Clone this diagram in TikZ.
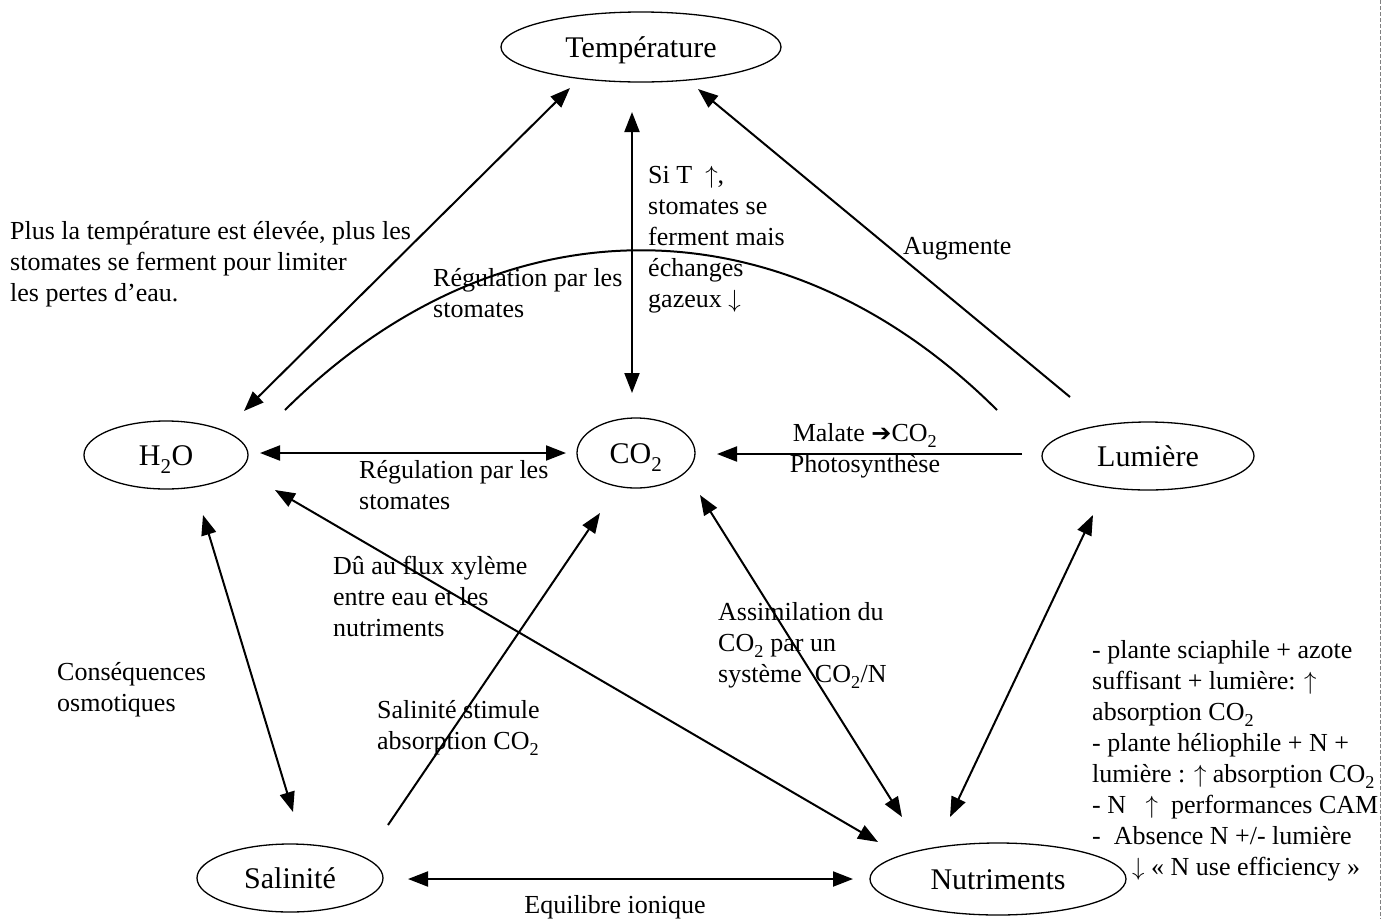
\documentclass[tikz,border=0pt]{standalone}
\usepackage{fontspec}
\setmainfont{Liberation Serif}
\newfontfamily\dejavu{DejaVu Sans}
\usetikzlibrary{shapes.geometric,arrows.meta,calc}
\newcommand{\dtwo}{\raisebox{-0.12em}{\textsubscript{2}}}
\newcommand{\upa}{$\uparrow$}
\newcommand{\dna}{$\downarrow$}
\begin{document}
\begin{tikzpicture}[x=1pt,y=-1pt,
  ell/.style={draw, ellipse, line width=1.3pt, inner sep=0pt, text height=24pt, text depth=4pt, font=\fontsize{30}{36}\selectfont},
  lbl/.style={font=\fontsize{26}{31}\selectfont, align=left, anchor=base west, inner sep=0pt},
  conn/.style={line width=2pt},
  dbl/.style={conn, {Triangle[length=20pt,width=15pt]}-{Triangle[length=20pt,width=15pt]}},
  one/.style={conn, -{Triangle[length=20pt,width=15pt]}}]
\useasboundingbox (0,0) rectangle (1385,919);

% nodes
\node[ell, minimum width=280pt, minimum height=70pt] (Temp) at (641,47) {Température};
\node[ell, minimum width=164pt, minimum height=68pt] (H2O) at (166,455) {H\dtwo O};
\node[ell, minimum width=118pt, minimum height=70pt] (CO2) at (636,453) {CO\dtwo};
\node[ell, minimum width=212pt, minimum height=68pt] (Lum) at (1148,456) {Lumière};
\node[ell, minimum width=186pt, minimum height=68pt] (Sal) at (290,878) {Salinité};
\node[ell, minimum width=256pt, minimum height=72pt] (Nutr) at (998,879) {Nutriments};

% connectors
\draw[dbl] ($(Temp.center)+(-71,41)$) -- ($(H2O.center)+(78,-44)$);
\draw[dbl] ($(Temp.center)+(-9,65)$) -- ($(CO2.center)+(-4,-60)$);
\draw[one] ($(Lum.center)+(-78,-59)$) -- ($(Temp.center)+(57,42)$);
\draw[conn] ($(H2O.center)+(119,-45)$) .. controls +(214,-213) and +(-214,-213) .. ($(Lum.center)+(-151,-46)$);
\draw[dbl] ($(H2O.center)+(94,-2)$) -- ($(CO2.center)+(-70,0)$);
\draw[one] ($(Lum.center)+(-126,-2)$) -- ($(CO2.center)+(81,1)$);
\draw[dbl] ($(H2O.center)+(109,35)$) -- ($(Nutr.center)+(-120,-37)$);
\draw[dbl] ($(H2O.center)+(37,60)$) -- ($(Sal.center)+(3,-66)$);
\draw[one] ($(Sal.center)+(98,-53)$) -- ($(CO2.center)+(-36,60)$);
\draw[dbl] ($(CO2.center)+(64,42)$) -- ($(Nutr.center)+(-96,-62)$);
\draw[dbl] ($(Lum.center)+(-55,59)$) -- ($(Nutr.center)+(-48,-62)$);
\draw[dbl] ($(Sal.center)+(118,1)$) -- ($(Nutr.center)+(-145,0)$);

% labels (anchor = baseline of the last line)
\node[lbl] (tA) at (10,301) {Plus la température est élevée, plus les\\stomates se ferment pour limiter\\les pertes d’eau.};
\node[lbl] (tB) at (433,317) {Régulation par les\\stomates};
\node[lbl] (tC) at (648,307) {Si T\ \ \upa,\\stomates se\\ferment mais\\échanges\\gazeux \dna};
\node[lbl] (tD) at (903,254) {Augmente};
\node[lbl] (tE) at (359,509) {Régulation par les\\stomates};
\node[lbl, align=center, anchor=base] (tF) at (865,472) {Malate {\dejavu\fontsize{24}{26}\selectfont ➔}CO\dtwo\\Photosynthèse};
\node[lbl] (tG) at (333,636) {Dû au flux xylème\\entre eau et les\\nutriments};
\node[lbl] (tH) at (718,682) {Assimilation du\\CO\dtwo{} par un\\système\ \ CO\dtwo/N};
\node[lbl] (tI) at (57,711) {Conséquences\\osmotiques};
\node[lbl] (tJ) at (377,749) {Salinité stimule\\absorption CO\dtwo};
\node[lbl, anchor=base] (tK) at (615,913) {Equilibre ionique};
\node[lbl] (tL) at (1092,875) {- plante sciaphile + azote\\suffisant + lumière: \upa\\absorption CO\dtwo\\- plante héliophile + N +\\lumière : \upa{} absorption CO\dtwo\\- N\ \ \ \upa\ \ performances CAM\\-\ \ Absence N +/- lumière\\\hspace*{40pt}\dna{} « N use efficiency »};

% scan border
\draw[gray, line width=0.8pt, dash pattern=on 4pt off 2pt] (1380,0) -- (1380,919);
\end{tikzpicture}
\end{document}
